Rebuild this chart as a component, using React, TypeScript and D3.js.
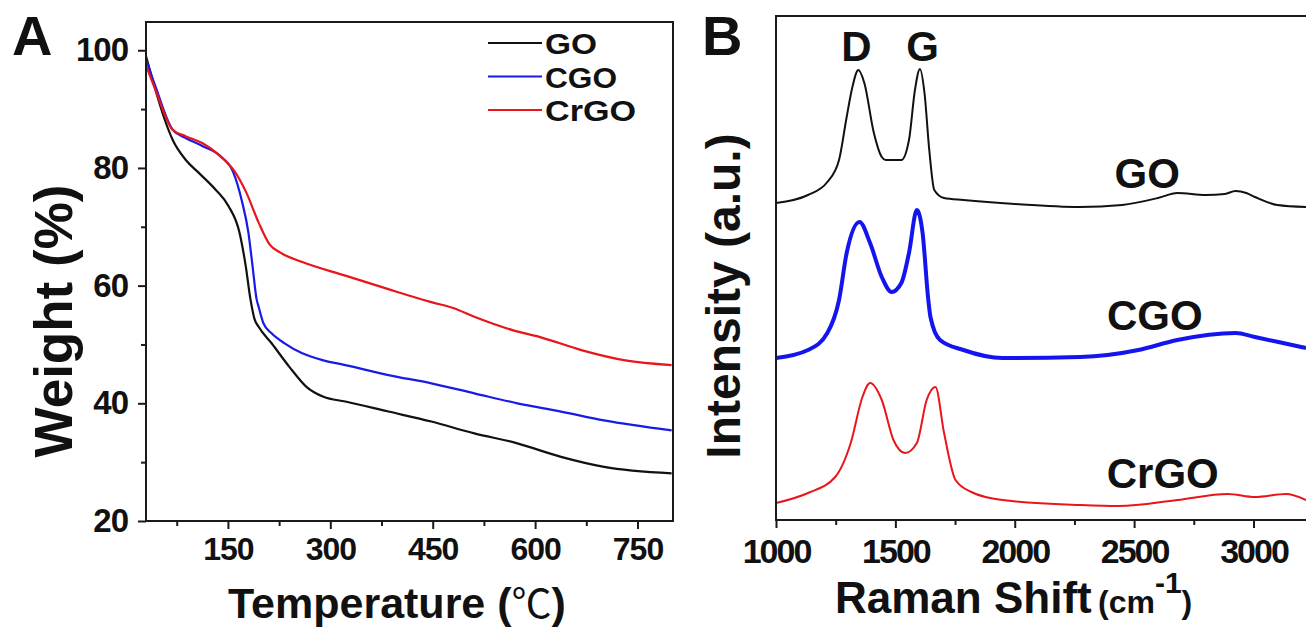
import React, { useEffect, useRef } from 'react';
import * as d3 from 'd3';

const W = 1306, H = 629;
const FONT = "'Liberation Sans', Arial, Helvetica, sans-serif";

// ---------- panel A : TGA ----------
const tempTicks = [150, 300, 450, 600, 750];
const tempMinor = [75, 225, 375, 525, 675];
const weightTicks = [20, 40, 60, 80, 100];
const weightMinor = [30, 50, 70, 90];

const goTemp = [30, 44, 56, 69, 88, 107, 132, 151, 167, 176, 183, 189, 195, 214, 240, 265, 290, 322, 385, 448, 511, 574, 638, 701, 800];
const goWeight = [99, 93.2, 88.7, 84.8, 81.4, 79.2, 76.3, 73.5, 69, 63.4, 57.7, 54.3, 53, 50.2, 46.2, 42.8, 41.1, 40.3, 38.6, 36.9, 34.9, 33.2, 30.9, 29.2, 28.1];

const cgoTemp = [30, 44, 69, 88, 113, 139, 158, 170, 180, 186, 192, 195, 202, 214, 233, 259, 290, 322, 385, 448, 511, 574, 638, 701, 800];
const cgoWeight = [98.5, 93.8, 86.5, 85.1, 83.7, 82, 79.2, 74.6, 69, 63.4, 57.7, 56.4, 53.6, 51.9, 50.2, 48.5, 47.3, 46.5, 44.8, 43.4, 41.7, 40, 38.6, 37.1, 35.4];

const crgoTemp = [30, 44, 69, 88, 113, 139, 158, 177, 195, 211, 227, 259, 322, 385, 448, 480, 511, 568, 606, 669, 732, 800];
const crgoWeight = [97.5, 93.2, 86.5, 85.4, 84.2, 82, 79.7, 75.8, 70.7, 67, 65.6, 64, 61.7, 59.4, 57.2, 56.2, 54.7, 52.4, 51.3, 49, 47.3, 46.5];

const tgaNames = ['GO', 'CGO', 'CrGO'];
const tgaColors = ['#111111', '#1a1ae6', '#e8161b'];

// ---------- panel B : Raman ----------
const shiftTicks = [1000, 1500, 2000, 2500, 3000];
const shiftMinor = [1250, 1750, 2250, 2750];

const goShift = [1000, 1134, 1215, 1264, 1296, 1320, 1345, 1370, 1410, 1443, 1460, 1525, 1557, 1582, 1603, 1622, 1642, 1663, 1704, 1785, 2000, 2273, 2450, 2600, 2681, 2800, 2880, 2925, 2970, 3006, 3100, 3220];
const goIntensity = [63.4, 65, 67.6, 72, 80.6, 86.6, 90, 87.4, 77.4, 72.6, 72, 72, 76, 86, 90.2, 85.4, 74, 66, 64.4, 64, 63.2, 62.6, 63, 64.4, 65.4, 65, 65.2, 65.8, 65.4, 64.6, 63, 62.6];

const cgoShift = [1000, 1134, 1215, 1264, 1296, 1350, 1394, 1443, 1484, 1525, 1557, 1590, 1614, 1638, 1647, 1687, 1785, 1948, 2274, 2518, 2681, 2925, 3006, 3200, 3220];
const cgoIntensity = [32.4, 34, 37.4, 44, 53.4, 59.6, 55.4, 48.6, 45.6, 47.4, 53.4, 62, 57.4, 44, 40.6, 36, 34, 32.4, 32.6, 34, 36, 37.4, 36.6, 34.6, 34.4];

const crgoShift = [1000, 1134, 1248, 1313, 1362, 1394, 1443, 1492, 1541, 1590, 1631, 1668, 1704, 1752, 1818, 1948, 2274, 2436, 2681, 2892, 3006, 3136, 3220];
const crgoIntensity = [3.4, 5.4, 8.6, 15.4, 24.6, 27.4, 24, 16, 13.4, 15.4, 24, 26.6, 17.4, 8, 5.6, 4, 3, 2.8, 4, 5.2, 4.6, 5.2, 4];

const peakLabels = ['D', 'G'];
const peakShifts = [1337, 1614];

export default function App() {
  const ref = useRef<SVGSVGElement>(null);

  useEffect(() => {
    const svg = d3.select(ref.current);
    svg.selectAll('*').remove();
    svg.append('rect').attr('width', W).attr('height', H).attr('fill', '#fff');

    const styleAxis = (g: any, size: number, ls: number) => {
      g.select('.domain').remove();
      g.selectAll('line').attr('stroke', '#1a1a1a').attr('stroke-width', 2);
      g.attr('font-family', FONT).attr('font-size', size).attr('font-weight', 'bold');
      g.selectAll('text').attr('fill', '#111').attr('letter-spacing', ls);
    };

    // ===== Panel A =====
    const xA = d3.scaleLinear().domain([30, 802]).range([146, 673]);
    const yA = d3.scaleLinear().domain([20, 104.8]).range([521, 22]);

    const tga = [
      { t: goTemp, w: goWeight },
      { t: cgoTemp, w: cgoWeight },
      { t: crgoTemp, w: crgoWeight },
    ];
    tga.forEach((s, k) => {
      const pts = s.t.map((t, i) => [t, s.w[i]] as [number, number]);
      const line = d3.line<[number, number]>()
        .x(d => xA(d[0]))
        .y(d => yA(d[1]))
        .curve(d3.curveMonotoneX);
      svg.append('path')
        .attr('d', line(pts))
        .attr('fill', 'none')
        .attr('stroke', tgaColors[k])
        .attr('stroke-width', 2.2);
    });

    svg.append('rect')
      .attr('x', xA.range()[0]).attr('y', yA.range()[1])
      .attr('width', xA.range()[1] - xA.range()[0])
      .attr('height', yA.range()[0] - yA.range()[1])
      .attr('fill', 'none').attr('stroke', '#1a1a1a').attr('stroke-width', 2);

    const axA = svg.append('g').attr('transform', `translate(0,${yA(20)})`)
      .call(d3.axisBottom(xA).tickValues(tempTicks).tickSize(8).tickPadding(8).tickFormat(d3.format('d')));
    styleAxis(axA, 32, -1);
    const axAm = svg.append('g').attr('transform', `translate(0,${yA(20)})`)
      .call(d3.axisBottom(xA).tickValues(tempMinor).tickSize(5).tickFormat(() => ''));
    styleAxis(axAm, 32, 0);

    const ayA = svg.append('g').attr('transform', `translate(${xA(30)},0)`)
      .call(d3.axisLeft(yA).tickValues(weightTicks).tickSize(8).tickPadding(10).tickFormat(d3.format('d')));
    styleAxis(ayA, 33, -1);
    const ayAm = svg.append('g').attr('transform', `translate(${xA(30)},0)`)
      .call(d3.axisLeft(yA).tickValues(weightMinor).tickSize(5).tickFormat(() => ''));
    styleAxis(ayAm, 33, 0);

    // legend
    const legendWidths = [52, 72, 91];
    tgaNames.forEach((n, i) => {
      const yb = 54 + i * 33.5;
      svg.append('line')
        .attr('x1', 488).attr('x2', 542)
        .attr('y1', yb - 11).attr('y2', yb - 11)
        .attr('stroke', tgaColors[i]).attr('stroke-width', 2.2);
      svg.append('text')
        .attr('x', 545).attr('y', yb)
        .attr('font-family', FONT).attr('font-size', 29).attr('font-weight', 'bold')
        .attr('textLength', legendWidths[i]).attr('lengthAdjust', 'spacingAndGlyphs')
        .attr('fill', '#111').text(n);
    });

    svg.append('text').attr('x', 12).attr('y', 55)
      .attr('font-family', FONT).attr('font-size', 56).attr('font-weight', 'bold')
      .attr('fill', '#111').text('A');

    svg.append('text')
      .attr('transform', 'translate(72,321) rotate(-90)')
      .attr('text-anchor', 'middle')
      .attr('font-family', FONT).attr('font-size', 53).attr('font-weight', 'bold')
      .attr('fill', '#111').text('Weight (%)');

    const tt = svg.append('text')
      .attr('x', 228).attr('y', 618)
      .attr('font-family', FONT).attr('font-size', 43).attr('font-weight', 'bold')
      .attr('fill', '#111');
    tt.append('tspan').text('Temperature (');
    tt.append('tspan')
      .attr('font-family', "'Noto Sans CJK SC', 'Noto Sans CJK JP', sans-serif")
      .attr('font-weight', 'normal').attr('font-size', 40).text('℃');
    tt.append('tspan').text(')');

    // ===== Panel B =====
    const xB = d3.scaleLinear().domain([1000, 3220]).range([776, 1306]);
    const yB = d3.scaleLinear().domain([0, 100.8]).range([520, 16]);

    svg.append('clipPath').attr('id', 'clipB')
      .append('rect').attr('x', 776).attr('y', 16).attr('width', 530).attr('height', 504);

    const raman = [
      { s: goShift, v: goIntensity, c: '#111111', w: 2 },
      { s: cgoShift, v: cgoIntensity, c: '#1414ee', w: 4 },
      { s: crgoShift, v: crgoIntensity, c: '#e8161b', w: 2 },
    ];
    const gB = svg.append('g').attr('clip-path', 'url(#clipB)');
    raman.forEach(r => {
      const pts = r.s.map((x, i) => [x, r.v[i]] as [number, number]);
      const line = d3.line<[number, number]>()
        .x(d => xB(d[0]))
        .y(d => yB(d[1]))
        .curve(d3.curveMonotoneX);
      gB.append('path')
        .attr('d', line(pts))
        .attr('fill', 'none')
        .attr('stroke', r.c)
        .attr('stroke-width', r.w)
        .attr('stroke-linejoin', 'round');
    });

    // frame (top + left), bottom is the axis line
    svg.append('path')
      .attr('d', `M${xB.range()[1]},${yB.range()[1]}H${xB.range()[0]}V${yB.range()[0]}H${xB.range()[1]}`)
      .attr('fill', 'none').attr('stroke', '#1a1a1a').attr('stroke-width', 2);

    const axB = svg.append('g').attr('transform', `translate(0,${yB(0)})`)
      .call(d3.axisBottom(xB).tickValues(shiftTicks).tickSize(8).tickPadding(11).tickFormat(d3.format('d')));
    styleAxis(axB, 34, -2);
    const axBm = svg.append('g').attr('transform', `translate(0,${yB(0)})`)
      .call(d3.axisBottom(xB).tickValues(shiftMinor).tickSize(5).tickFormat(() => ''));
    styleAxis(axBm, 34, 0);

    peakLabels.forEach((p, i) => {
      svg.append('text')
        .attr('x', xB(peakShifts[i])).attr('y', 61)
        .attr('text-anchor', 'middle')
        .attr('font-family', FONT).attr('font-size', 42).attr('font-weight', 'bold')
        .attr('fill', '#111').text(p);
    });

    const sampleLabels = [
      { t: 'GO', x: 2555, y: 188 },
      { t: 'CGO', x: 2587, y: 330 },
      { t: 'CrGO', x: 2620, y: 488 },
    ];
    sampleLabels.forEach(l => {
      svg.append('text')
        .attr('x', xB(l.x)).attr('y', l.y)
        .attr('text-anchor', 'middle')
        .attr('font-family', FONT).attr('font-size', 42).attr('font-weight', 'bold')
        .attr('fill', '#111').text(l.t);
    });

    svg.append('text').attr('x', 702).attr('y', 55)
      .attr('font-family', FONT).attr('font-size', 56).attr('font-weight', 'bold')
      .attr('fill', '#111').text('B');

    svg.append('text')
      .attr('transform', 'translate(740,296) rotate(-90)')
      .attr('text-anchor', 'middle')
      .attr('font-family', FONT).attr('font-size', 48).attr('font-weight', 'bold')
      .attr('fill', '#111').text('Intensity (a.u.)');

    const xt = svg.append('text')
      .attr('x', 835).attr('y', 613)
      .attr('font-family', FONT).attr('font-weight', 'bold').attr('fill', '#111');
    xt.append('tspan').attr('font-size', 44).text('Raman Shift');
    xt.append('tspan').attr('x', 1098).attr('font-size', 32).text('(cm');
    xt.append('tspan').attr('font-size', 30).attr('dy', -20).text('-1');
    xt.append('tspan').attr('font-size', 32).attr('dy', 20).text(')');
  }, []);

  return (
    <div style={{ position: 'fixed', left: 0, top: 0, width: W, height: H, background: '#fff' }}>
      <svg ref={ref} width={W} height={H} />
    </div>
  );
}
